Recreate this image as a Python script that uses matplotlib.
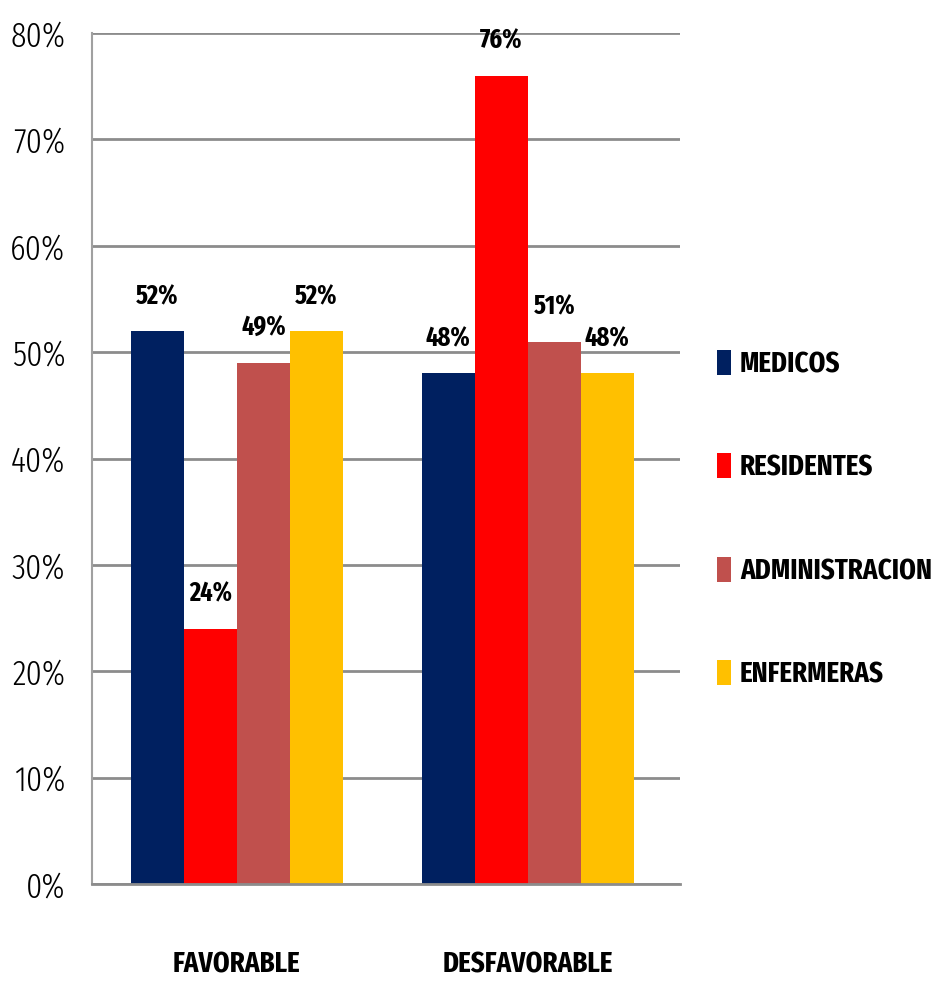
import matplotlib
matplotlib.use("Agg")
import matplotlib.pyplot as plt
import numpy as np
from matplotlib.ticker import PercentFormatter

plt.rcParams["font.family"] = ["Fira Sans Extra Condensed", "DejaVu Sans"]

# ── Data ───────────────────────────────────────────────────────────
categories = ["FAVORABLE", "DESFAVORABLE"]
groups = ["MEDICOS", "RESIDENTES", "ADMINISTRACION", "ENFERMERAS"]
medicos = [52, 48]
residentes = [24, 76]
administracion = [49, 51]
enfermeras = [52, 48]
colors = ["#002060", "#FF0000", "#C0504D", "#FFC000"]

series = [medicos, residentes, administracion, enfermeras]

fig = plt.figure(figsize=(9.51, 9.97), dpi=100)
ax = fig.add_axes([0.0967, 0.1133, 0.618, 0.8536])

x = np.arange(len(categories))
width = 0.182
for i, (vals, name, col) in enumerate(zip(series, groups, colors)):
    pos = x + (i - 1.5) * width
    bars = ax.bar(pos, vals, width, color=col, label=name, zorder=3)
    for b, v in zip(bars, vals):
        ax.text(b.get_x() + b.get_width() / 2, v + 2.0, f"{v}%",
                ha="center", va="bottom", fontsize=19, fontweight="bold")

ax.set_xlim(-0.498, 1.522)
ax.set_ylim(0, 80)
ax.set_yticks(np.arange(0, 81, 10))
ax.yaxis.set_major_formatter(PercentFormatter(decimals=0))
ax.set_xticks(x)
ax.set_xticklabels(categories, fontsize=21, fontweight="bold")
ax.tick_params(axis="x", length=0, pad=48)
ax.tick_params(axis="y", length=0, labelsize=25, pad=19)
for lbl in ax.get_yticklabels():
    lbl.set_fontweight(300)

ax.grid(axis="y", color="#8C8C8C", linewidth=2, zorder=0)
for s in ["top", "right"]:
    ax.spines[s].set_visible(False)
ax.spines["left"].set_color("#A0A0A0")
ax.spines["left"].set_linewidth(1.5)
ax.spines["bottom"].set_color("#8C8C8C")
ax.spines["bottom"].set_linewidth(2)
ax.spines["bottom"].set_zorder(4)

leg = ax.legend(loc="center left", bbox_to_anchor=(0.754, 0.479),
                bbox_transform=fig.transFigure, frameon=False,
                prop={"size": 21, "weight": "bold"},
                borderpad=0, borderaxespad=0,
                handlelength=0.48, handleheight=0.96, handletextpad=0.3,
                labelspacing=2.55)

fig.savefig("out.png", dpi=100)
